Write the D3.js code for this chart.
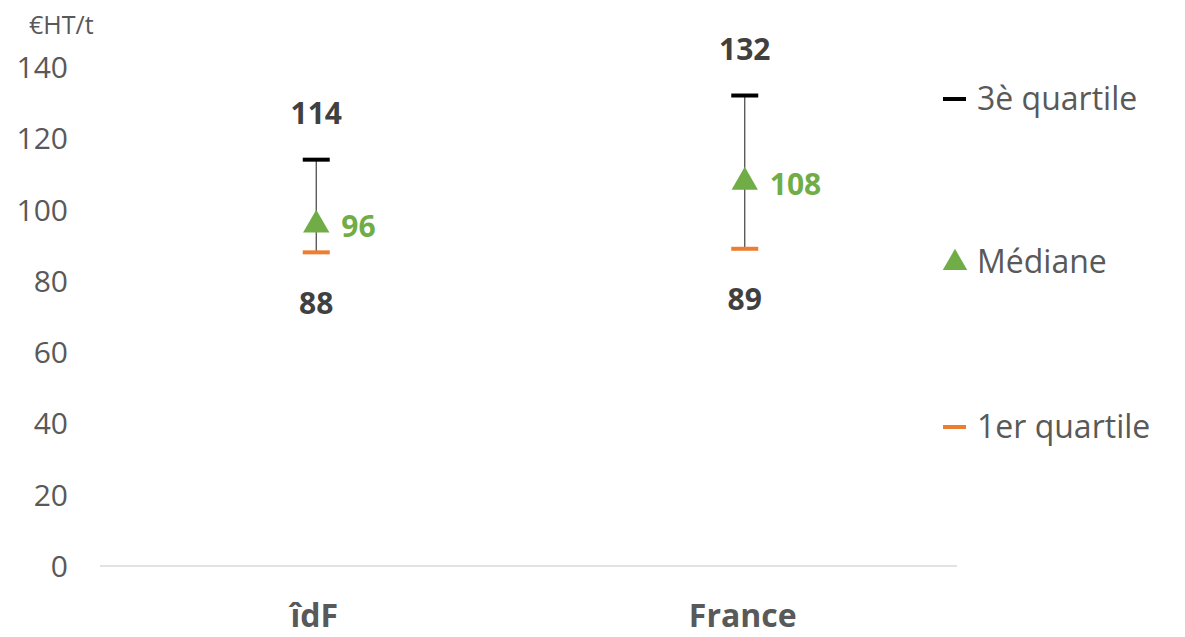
<!DOCTYPE html>
<html>
<head>
<meta charset="utf-8">
<script src="https://cdn.jsdelivr.net/npm/d3@7"></script>
<style>
  body { margin: 0; background: #fff; }
  text { font-family: "Open Sans", "Noto Sans", sans-serif; }
  .tick text { fill: #595959; font-size: 30px; }
</style>
</head>
<body>
<script>
// Chart values
let categories = ['îdF', 'France'];
let q1     = [88, 89];
let median = [96, 108];
let q3     = [114, 132];
let yTicks = [0, 20, 40, 60, 80, 100, 120, 140];
let legendLabels = ['3è quartile', 'Médiane', '1er quartile'];
let unit = '€HT/t';

let width = 1185, height = 637;
let margin = { top: 67, right: 228, bottom: 71, left: 100 };

let svg = d3.select('body').append('svg')
    .attr('width', width)
    .attr('height', height);

let x = d3.scaleBand().domain(categories).range([margin.left, width - margin.right]);
let y = d3.scaleLinear().domain([0, 140]).range([height - margin.bottom, margin.top]);

let gray = '#595959', dark = '#404040', green = '#70ad47', orange = '#ed7d31';

// y axis, no line, no ticks
let yAxis = svg.append('g')
    .attr('transform', 'translate(' + (margin.left - 30) + ',0)')
    .call(d3.axisLeft(y).tickValues(yTicks).tickSize(0).tickPadding(2));
yAxis.select('.domain').remove();
yAxis.selectAll('.tick text').attr('dy', '0.35em');

svg.append('text')
  .attr('x', 29).attr('y', 34)
  .attr('fill', gray).attr('font-size', 25)
  .text(unit);

// baseline
svg.append('line')
  .attr('x1', margin.left).attr('x2', width - margin.right)
  .attr('y1', y(0)).attr('y2', y(0))
  .attr('stroke', '#d9d9d9').attr('stroke-width', 1.5);

// category labels
svg.selectAll('text.cat').data(categories).enter().append('text')
  .attr('class', 'cat')
  .attr('x', d => x(d) + x.bandwidth() / 2)
  .attr('y', height - 10)
  .attr('text-anchor', 'middle')
  .attr('font-size', 32).attr('font-weight', 'bold')
  .attr('fill', gray)
  .text(d => d);

let cx = i => x(categories[i]) + x.bandwidth() / 2 + 2;
let capW = 27;
let tri = d3.symbol().type(d3.symbolTriangle).size(300);

categories.forEach(function (c, i) {
  let g = svg.append('g');

  g.append('line')
    .attr('x1', cx(i)).attr('x2', cx(i))
    .attr('y1', y(q3[i])).attr('y2', y(q1[i]))
    .attr('stroke', '#404040').attr('stroke-width', 1.2);

  g.append('line')
    .attr('x1', cx(i) - capW / 2).attr('x2', cx(i) + capW / 2)
    .attr('y1', y(q3[i])).attr('y2', y(q3[i]))
    .attr('stroke', '#000').attr('stroke-width', 4);

  g.append('line')
    .attr('x1', cx(i) - capW / 2).attr('x2', cx(i) + capW / 2)
    .attr('y1', y(q1[i])).attr('y2', y(q1[i]))
    .attr('stroke', orange).attr('stroke-width', 4);

  g.append('path')
    .attr('d', tri)
    .attr('transform', 'translate(' + cx(i) + ',' + (y(median[i]) + 1) + ')')
    .attr('fill', green);

  g.append('text')
    .attr('x', cx(i)).attr('y', y(q3[i]) - 46)
    .attr('dy', '0.35em').attr('text-anchor', 'middle')
    .attr('font-size', 30).attr('font-weight', 'bold').attr('fill', dark)
    .text(q3[i]);

  g.append('text')
    .attr('x', cx(i)).attr('y', y(q1[i]) + 51)
    .attr('dy', '0.35em').attr('text-anchor', 'middle')
    .attr('font-size', 30).attr('font-weight', 'bold').attr('fill', dark)
    .text(q1[i]);

  g.append('text')
    .attr('x', cx(i) + 25).attr('y', y(median[i]) + 3)
    .attr('dy', '0.35em')
    .attr('font-size', 30).attr('font-weight', 'bold').attr('fill', green)
    .text(median[i]);
});

// legend
let legY = [99, 262, 427];
let legend = svg.append('g');
legendLabels.forEach(function (l, i) {
  if (i === 1) {
    legend.append('path')
      .attr('d', d3.symbol().type(d3.symbolTriangle).size(260))
      .attr('transform', 'translate(955,' + (legY[i] + 1) + ')')
      .attr('fill', green);
  } else {
    legend.append('line')
      .attr('x1', 943).attr('x2', 966)
      .attr('y1', legY[i]).attr('y2', legY[i])
      .attr('stroke', i === 0 ? '#000' : orange).attr('stroke-width', 4);
  }
  legend.append('text')
    .attr('x', 977).attr('y', legY[i])
    .attr('dy', '0.35em')
    .attr('font-size', 32).attr('fill', gray)
    .text(l);
});
</script>
</body>
</html>
